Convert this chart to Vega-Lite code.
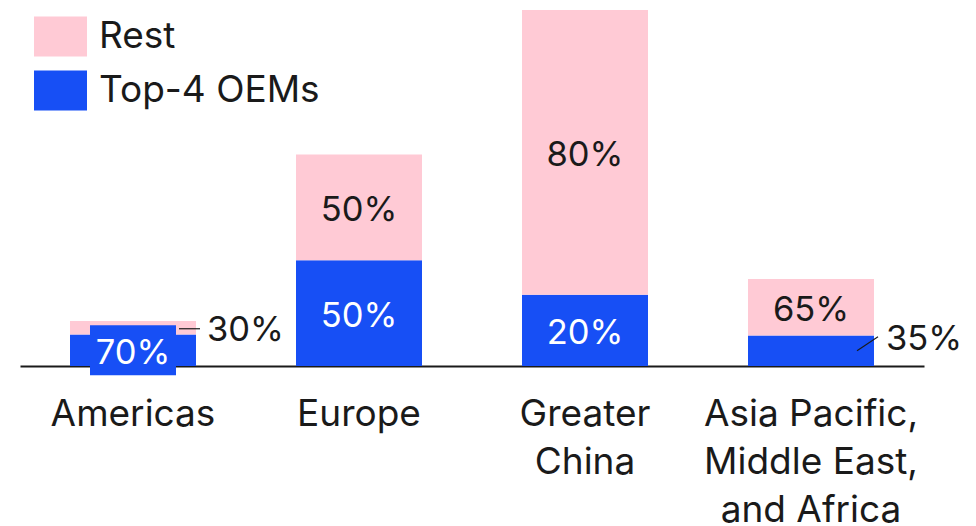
{
  "$schema": "https://vega.github.io/schema/vega-lite/v6.json",
  "width": 904,
  "height": 356,
  "autosize": {"type": "none"},
  "padding": {"left": 20, "top": 10, "right": 52, "bottom": 160},
  "config": {
    "view": {"stroke": null},
    "font": "Inter",
    "text": {"font": "Inter", "fontSize": 34.5},
    "legend": {
      "orient": "none",
      "legendX": 14,
      "legendY": 0,
      "padding": 0,
      "symbolType": "M-1,-0.755L1,-0.755L1,0.755L-1,0.755Z",
      "symbolSize": 2809,
      "symbolStrokeWidth": 0,
      "symbolOpacity": 1,
      "labelFont": "Inter",
      "labelFontSize": 37,
      "labelColor": "#1a1a1a",
      "labelOffset": 12,
      "rowPadding": 7,
      "labelLimit": 400
    }
  },
  "data": {
    "values": [
      {"region": "Americas", "group": "Top-4 OEMs", "rank": 1, "value": 31.5, "pct": 0.7},
      {"region": "Americas", "group": "Rest", "rank": 2, "value": 13.5, "pct": 0.3},
      {"region": "Europe", "group": "Top-4 OEMs", "rank": 1, "value": 105.8, "pct": 0.5},
      {"region": "Europe", "group": "Rest", "rank": 2, "value": 105.8, "pct": 0.5},
      {"region": "Greater China", "group": "Top-4 OEMs", "rank": 1, "value": 71.2, "pct": 0.2},
      {"region": "Greater China", "group": "Rest", "rank": 2, "value": 284.8, "pct": 0.8},
      {"region": "Asia Pacific, Middle East, and Africa", "group": "Top-4 OEMs", "rank": 1, "value": 30.5, "pct": 0.35},
      {"region": "Asia Pacific, Middle East, and Africa", "group": "Rest", "rank": 2, "value": 56.5, "pct": 0.65}
    ]
  },
  "transform": [
    {"stack": "value", "groupby": ["region"], "sort": [{"field": "rank", "order": "ascending"}], "as": ["y0", "y1"]}
  ],
  "encoding": {
    "x": {
      "field": "region",
      "type": "nominal",
      "sort": ["Americas", "Europe", "Greater China", "Asia Pacific, Middle East, and Africa"],
      "scale": {"paddingInner": 0.4425, "paddingOuter": 0.22125},
      "axis": {
        "title": null,
        "ticks": false,
        "tickSize": 0,
        "domainColor": "#1a1a1a",
        "domainWidth": 2,
        "labelFont": "Inter",
        "labelFontSize": 37,
        "labelColor": "#1a1a1a",
        "labelPadding": 30,
        "labelAngle": 0,
        "labelLineHeight": 48,
        "labelLimit": 400,
        "labelExpr": "datum.value == 'Greater China' ? ['Greater', 'China'] : datum.value == 'Asia Pacific, Middle East, and Africa' ? ['Asia Pacific,', 'Middle East,', 'and Africa'] : datum.value"
      }
    }
  },
  "layer": [
    {
      "mark": {"type": "bar"},
      "encoding": {
        "y": {"field": "y0", "type": "quantitative", "scale": {"domain": [0, 356], "nice": false, "zero": true}, "axis": null},
        "y2": {"field": "y1"},
        "color": {
          "field": "group",
          "type": "nominal",
          "scale": {"domain": ["Rest", "Top-4 OEMs"], "range": ["#ffcad5", "#174ff5"]},
          "legend": {"title": null}
        }
      }
    },
    {
      "transform": [
        {"fold": ["y0", "y1"], "as": ["edge", "edgeValue"]},
        {"aggregate": [{"op": "mean", "field": "edgeValue", "as": "mid"}], "groupby": ["region", "group", "pct"]},
        {"filter": "datum.region == 'Americas' && datum.group == 'Top-4 OEMs'"}
      ],
      "mark": {"type": "point", "shape": "M-1,-0.5814L1,-0.5814L1,0.5814L-1,0.5814Z", "size": 7396, "filled": true, "opacity": 1, "color": "#174ff5", "strokeWidth": 0},
      "encoding": {
        "y": {"field": "mid", "type": "quantitative", "scale": {"domain": [0, 356], "nice": false, "zero": true}, "axis": null}
      }
    },
    {
      "transform": [
        {"fold": ["y0", "y1"], "as": ["edge", "edgeValue"]},
        {"aggregate": [{"op": "mean", "field": "edgeValue", "as": "mid"}], "groupby": ["region", "group", "pct"]},
        {"filter": "datum.group == 'Top-4 OEMs' && datum.region != 'Asia Pacific, Middle East, and Africa'"}
      ],
      "mark": {"type": "text", "color": "white", "fontSize": 34.5, "baseline": "middle", "align": "center", "dy": 4},
      "encoding": {
        "y": {"field": "mid", "type": "quantitative", "scale": {"domain": [0, 356], "nice": false, "zero": true}, "axis": null},
        "text": {"field": "pct", "type": "quantitative", "format": ".0%"}
      }
    },
    {
      "transform": [
        {"fold": ["y0", "y1"], "as": ["edge", "edgeValue"]},
        {"aggregate": [{"op": "mean", "field": "edgeValue", "as": "mid"}], "groupby": ["region", "group", "pct"]},
        {"filter": "datum.group == 'Rest' && datum.region != 'Americas'"}
      ],
      "mark": {"type": "text", "color": "#1a1a1a", "fontSize": 34.5, "baseline": "middle", "align": "center", "dy": 4},
      "encoding": {
        "y": {"field": "mid", "type": "quantitative", "scale": {"domain": [0, 356], "nice": false, "zero": true}, "axis": null},
        "text": {"field": "pct", "type": "quantitative", "format": ".0%"}
      }
    },
    {
      "transform": [
        {"fold": ["y0", "y1"], "as": ["edge", "edgeValue"]},
        {"aggregate": [{"op": "mean", "field": "edgeValue", "as": "mid"}], "groupby": ["region", "group", "pct"]},
        {"filter": "datum.group == 'Rest' && datum.region == 'Americas'"}
      ],
      "mark": {"type": "text", "color": "#1a1a1a", "fontSize": 34.5, "baseline": "middle", "align": "left", "dx": 74, "dy": 3},
      "encoding": {
        "y": {"field": "mid", "type": "quantitative", "scale": {"domain": [0, 356], "nice": false, "zero": true}, "axis": null},
        "text": {"field": "pct", "type": "quantitative", "format": ".0%"}
      }
    },
    {
      "transform": [
        {"fold": ["y0", "y1"], "as": ["edge", "edgeValue"]},
        {"aggregate": [{"op": "mean", "field": "edgeValue", "as": "mid"}], "groupby": ["region", "group", "pct"]},
        {"filter": "datum.group == 'Top-4 OEMs' && datum.region == 'Asia Pacific, Middle East, and Africa'"}
      ],
      "mark": {"type": "text", "color": "#1a1a1a", "fontSize": 34.5, "baseline": "middle", "align": "left", "dx": 75, "dy": -11},
      "encoding": {
        "y": {"field": "mid", "type": "quantitative", "scale": {"domain": [0, 356], "nice": false, "zero": true}, "axis": null},
        "text": {"field": "pct", "type": "quantitative", "format": ".0%"}
      }
    },
    {
      "transform": [
        {"fold": ["y0", "y1"], "as": ["edge", "edgeValue"]},
        {"aggregate": [{"op": "mean", "field": "edgeValue", "as": "mid"}], "groupby": ["region", "group", "pct"]},
        {"filter": "datum.group == 'Rest' && datum.region == 'Americas'"}
      ],
      "mark": {"type": "rule", "color": "#1a1a1a", "strokeWidth": 1.2, "xOffset": 46, "x2Offset": 67, "yOffset": 1, "y2Offset": 1},
      "encoding": {
        "x2": {"field": "region"},
        "y": {"field": "mid", "type": "quantitative", "scale": {"domain": [0, 356], "nice": false, "zero": true}, "axis": null},
        "y2": {"field": "mid"}
      }
    },
    {
      "transform": [
        {"fold": ["y0", "y1"], "as": ["edge", "edgeValue"]},
        {"aggregate": [{"op": "mean", "field": "edgeValue", "as": "mid"}], "groupby": ["region", "group", "pct"]},
        {"filter": "datum.group == 'Top-4 OEMs' && datum.region == 'Asia Pacific, Middle East, and Africa'"}
      ],
      "mark": {"type": "rule", "color": "#1a1a1a", "strokeWidth": 1.2, "xOffset": 46, "x2Offset": 67, "yOffset": 0, "y2Offset": -14},
      "encoding": {
        "x2": {"field": "region"},
        "y": {"field": "mid", "type": "quantitative", "scale": {"domain": [0, 356], "nice": false, "zero": true}, "axis": null},
        "y2": {"field": "mid"}
      }
    }
  ]
}
